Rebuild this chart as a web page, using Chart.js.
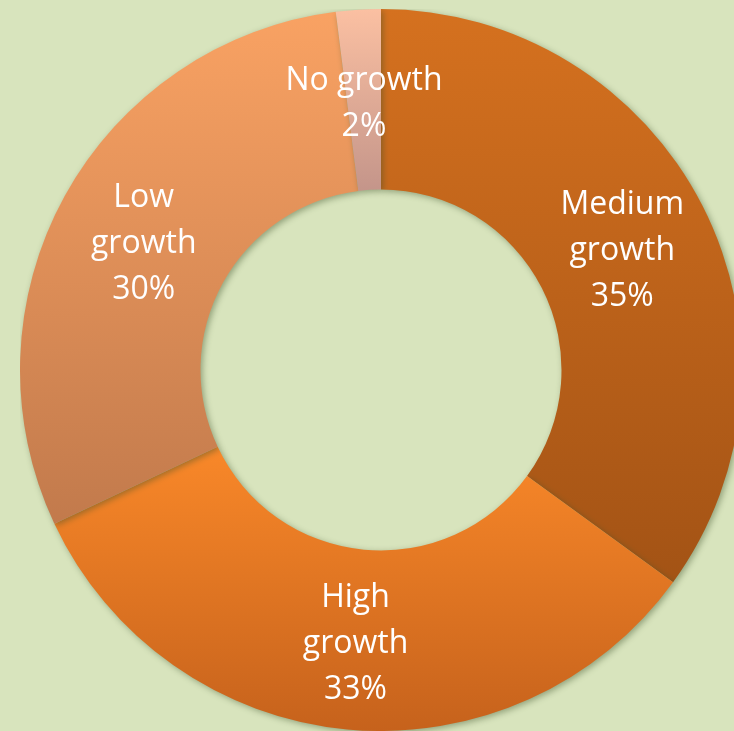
<!DOCTYPE html>
<html lang="en">
<head>
<meta charset="UTF-8">
<title>Growth</title>
<script src="https://cdn.jsdelivr.net/npm/chart.js"></script>
<style>
  html, body { margin: 0; padding: 0; overflow: hidden; background: #d8e4bd; }
  body { width: 734px; height: 731px; position: relative; }
  #wrap { position: absolute; left: 20px; top: 9px; width: 722px; height: 722px; }
</style>
</head>
<body>
<div id="wrap"><canvas id="chart"></canvas></div>
<script>
  const categories = ['Medium growth', 'High growth', 'Low growth', 'No growth'];
  const shares = [35, 33, 30, 2];
  const labelLines = [['Medium', 'growth'], ['High', 'growth'], ['Low', 'growth'], ['No growth']];
  // top / bottom colours of each slice's vertical gradient
  const topColors = ['#d5711f', '#f98829', '#f9a263', '#fbc0a2'];
  const bottomColors = ['#a35315', '#c6621c', '#c27a4c', '#c4958a'];

  // vertical extent of a slice, for the per-slice gradient
  function sliceRange(chart, i) {
    const area = chart.chartArea;
    const cx = (area.left + area.right) / 2, cy = (area.top + area.bottom) / 2;
    const R = Math.min(area.right - area.left, area.bottom - area.top) / 2;
    const r = R * 0.5;
    const total = shares.reduce((a, b) => a + b, 0);
    let before = 0;
    for (let k = 0; k < i; k++) before += shares[k];
    const a0 = -Math.PI / 2 + before / total * Math.PI * 2;
    const a1 = a0 + shares[i] / total * Math.PI * 2;
    const ys = [cy + R * Math.sin(a0), cy + R * Math.sin(a1), cy + r * Math.sin(a0), cy + r * Math.sin(a1)];
    if (a0 <= Math.PI / 2 && a1 >= Math.PI / 2) ys.push(cy + R);
    if (a0 <= 3 * Math.PI / 2 && a1 >= 3 * Math.PI / 2) ys.push(cy - R);
    return [Math.min(...ys), Math.max(...ys)];
  }

  const shadowPlugin = {
    id: 'shadow',
    beforeDatasetDraw(chart) {
      const ctx = chart.ctx;
      ctx.save();
      ctx.shadowColor = 'rgba(60,80,40,0.45)';
      ctx.shadowBlur = 6;
      ctx.shadowOffsetX = 2;
      ctx.shadowOffsetY = 2;
    },
    afterDatasetDraw(chart) {
      chart.ctx.restore();
    }
  };

  const labelPlugin = {
    id: 'sliceLabels',
    afterDatasetsDraw(chart) {
      const ctx = chart.ctx;
      const meta = chart.getDatasetMeta(0);
      ctx.save();
      ctx.fillStyle = '#ffffff';
      ctx.font = '32px "Open Sans"';
      ctx.textAlign = 'center';
      ctx.textBaseline = 'middle';
      const lh = 46;
      meta.data.forEach((arc, i) => {
        const p = arc.tooltipPosition();
        const lines = labelLines[i].concat([shares[i] + '%']);
        const y0 = p.y + 4 - (lines.length - 1) * lh / 2;
        lines.forEach((t, j) => ctx.fillText(t, p.x, y0 + j * lh));
      });
      ctx.restore();
    }
  };

  new Chart(document.getElementById('chart'), {
    type: 'doughnut',
    data: {
      labels: categories,
      datasets: [{
        data: shares,
        borderWidth: 0,
        backgroundColor: (c) => {
          const chart = c.chart;
          if (!chart.chartArea) return topColors[c.dataIndex];
          const [y0, y1] = sliceRange(chart, c.dataIndex);
          const g = chart.ctx.createLinearGradient(0, y0, 0, y1);
          g.addColorStop(0, topColors[c.dataIndex]);
          g.addColorStop(1, bottomColors[c.dataIndex]);
          return g;
        }
      }]
    },
    options: {
      responsive: true,
      maintainAspectRatio: false,
      animation: false,
      cutout: '50%',
      layout: { padding: 0 },
      plugins: {
        legend: { display: false },
        tooltip: { enabled: false }
      }
    },
    plugins: [shadowPlugin, labelPlugin]
  });
</script>
</body>
</html>
